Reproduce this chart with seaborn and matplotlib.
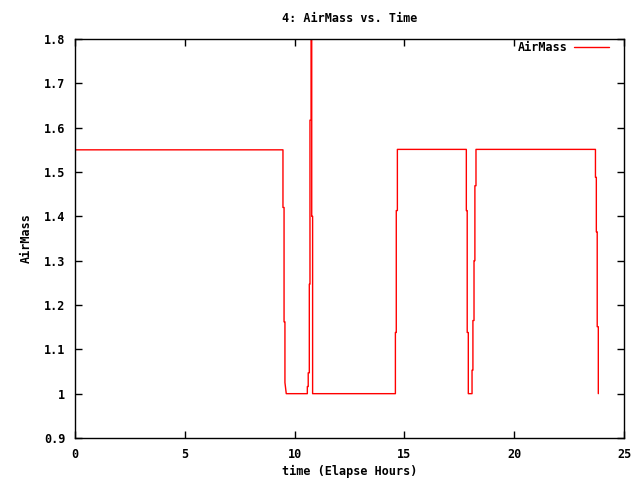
import matplotlib
matplotlib.use("Agg")
import matplotlib.pyplot as plt
import seaborn as sns
import pandas as pd

time_h = [0.0, 9.47, 9.47, 9.52, 9.52, 9.56, 9.56, 9.62, 10.58, 10.58, 10.62, 10.62,
          10.67, 10.67, 10.70, 10.70, 10.75, 10.75, 10.78, 10.78, 10.82, 10.82,
          14.59, 14.59, 14.63, 14.63, 14.68, 14.68, 17.82, 17.82, 17.86, 17.86,
          17.91, 17.91, 18.08, 18.08, 18.12, 18.12, 18.17, 18.17, 18.21, 18.21,
          18.26, 18.26, 23.70, 23.70, 23.74, 23.74, 23.78, 23.78, 23.83, 23.83]
airmass = [1.55, 1.55, 1.42, 1.42, 1.162, 1.162, 1.025, 1.0, 1.0, 1.016, 1.016, 1.047,
           1.047, 1.247, 1.247, 1.617, 1.617, 1.95, 1.95, 1.40, 1.40, 1.0,
           1.0, 1.138, 1.138, 1.413, 1.413, 1.551, 1.551, 1.413, 1.413, 1.138,
           1.138, 1.0, 1.0, 1.053, 1.053, 1.165, 1.165, 1.30, 1.30, 1.469,
           1.469, 1.551, 1.551, 1.488, 1.488, 1.365, 1.365, 1.151, 1.151, 1.0]

x_ticks = [0, 5, 10, 15, 20, 25]
y_ticks = [0.9, 1.0, 1.1, 1.2, 1.3, 1.4, 1.5, 1.6, 1.7, 1.8]
y_tick_labels = ["0.9", "1", "1.1", "1.2", "1.3", "1.4", "1.5", "1.6", "1.7", "1.8"]

df = pd.DataFrame({"time": time_h, "AirMass": airmass})

sns.set_style("ticks")
plt.rcParams["font.family"] = ["DejaVu Sans Mono"]
plt.rcParams["font.weight"] = "bold"
plt.rcParams["font.size"] = 8.5
plt.rcParams["text.color"] = "black"
plt.rcParams["axes.labelcolor"] = "black"

fig = plt.figure(figsize=(6.4, 4.8), dpi=100)
ax = fig.add_axes([75/640, 1 - 438/480, (624 - 75)/640, (438 - 39)/480])

sns.lineplot(data=df, x="time", y="AirMass", sort=False, estimator=None,
             color="#ff0000", linewidth=1.0, label="AirMass", ax=ax)

ax.set_xlim(0, 25)
ax.set_ylim(0.9, 1.8)
ax.set_xticks(x_ticks)
ax.set_xticklabels([str(t) for t in x_ticks])
ax.set_yticks(y_ticks)
ax.set_yticklabels(y_tick_labels)
ax.tick_params(direction="in", length=5, width=1, top=True, right=True,
               colors="black", labelsize=8.5, pad=7)
for s in ax.spines.values():
    s.set_color("black")
    s.set_linewidth(1)

ax.set_title("4: AirMass vs. Time", fontsize=8.5, fontweight="bold", pad=12,
             color="black")
ax.set_xlabel("time (Elapse Hours)", fontsize=8.5, fontweight="bold", labelpad=3,
              color="black")
ax.set_ylabel("AirMass", fontsize=8.5, fontweight="bold", labelpad=8,
              color="black")

leg = ax.legend(loc="upper right", bbox_to_anchor=(0.977, 1.0), frameon=False,
                markerfirst=False, handlelength=3.0, fontsize=8.5,
                borderaxespad=0.0, borderpad=0.2, handletextpad=0.5)
for t in leg.get_texts():
    t.set_color("black")

fig.savefig("out.png", dpi=100)
